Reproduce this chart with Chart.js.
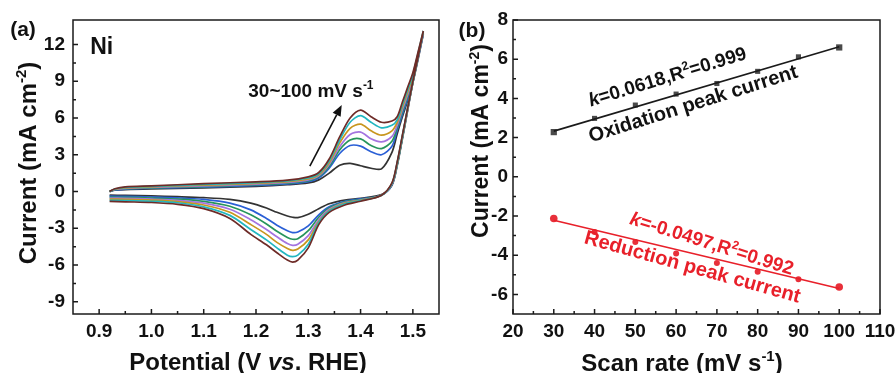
<!DOCTYPE html>
<html>
<head>
<meta charset="utf-8">
<script src="https://cdn.jsdelivr.net/npm/chart.js@4.4.1/dist/chart.umd.min.js"></script>
<style>
  html, body { margin: 0; padding: 0; background: #fff; }
  #wrap { position: relative; width: 896px; height: 373px; overflow: hidden; }
  canvas { position: absolute; top: 0; }
  #cv { left: 0; }
  #rate { left: 450px; }
</style>
</head>
<body>
<div id="wrap">
  <canvas id="cv" width="450" height="373"></canvas>
  <canvas id="rate" width="446" height="373"></canvas>
</div>
<script>
// ---- panel (a): CV curves, 30~100 mV/s ----
const cvFwdX = [0.92, 0.93, 0.95, 1.00, 1.10, 1.20, 1.26, 1.30, 1.32, 1.34, 1.36, 1.38, 1.40, 1.42, 1.44, 1.46, 1.47, 1.48, 1.49, 1.50, 1.51, 1.52];
const cvBackX = [1.52, 1.51, 1.50, 1.49, 1.48, 1.47, 1.46, 1.44, 1.40, 1.37, 1.34, 1.32, 1.30, 1.28, 1.27, 1.26, 1.24, 1.22, 1.19, 1.15, 1.10, 1.05, 1.00, 0.95, 0.92];

const fwdBlack  = [0.0, 0.10, 0.16, 0.22, 0.30, 0.42, 0.55, 0.70, 0.95, 1.50, 2.15, 2.30, 2.10, 1.90, 1.85, 3.20, 4.70, 6.10, 7.40, 8.90, 10.8, 12.85];
const fwdBlue   = [0.0, 0.12, 0.20, 0.27, 0.36, 0.50, 0.62, 0.80, 1.10, 1.90, 3.10, 3.75, 3.70, 3.25, 3.00, 3.70, 5.00, 6.30, 7.60, 9.00, 10.9, 12.90];
const fwdGreen  = [0.0, 0.14, 0.23, 0.30, 0.40, 0.55, 0.68, 0.88, 1.20, 2.05, 3.40, 4.20, 4.30, 3.75, 3.50, 4.10, 5.20, 6.50, 7.75, 9.10, 11.0, 12.95];
const fwdPurple = [0.0, 0.16, 0.26, 0.34, 0.45, 0.60, 0.74, 0.95, 1.28, 2.20, 3.65, 4.65, 4.85, 4.30, 4.05, 4.50, 5.40, 6.70, 7.90, 9.25, 11.1, 13.00];
const fwdGold   = [0.0, 0.18, 0.30, 0.38, 0.52, 0.66, 0.80, 1.02, 1.36, 2.35, 3.95, 5.15, 5.50, 4.95, 4.60, 4.95, 5.65, 6.90, 8.10, 9.40, 11.2, 13.05];
const fwdCyan   = [0.0, 0.20, 0.34, 0.42, 0.58, 0.72, 0.86, 1.10, 1.45, 2.50, 4.20, 5.65, 6.20, 5.65, 5.20, 5.40, 5.85, 7.10, 8.30, 9.55, 11.3, 13.10];
const fwdBrown  = [0.0, 0.22, 0.38, 0.46, 0.64, 0.79, 0.93, 1.20, 1.55, 2.65, 4.45, 6.00, 6.65, 6.10, 5.65, 5.75, 6.10, 7.30, 8.50, 9.70, 11.4, 13.10];

const backBlack  = [12.85, 10.9, 8.9, 6.6, 4.3, 2.1, 0.50, -0.25, -0.55, -0.70, -1.00, -1.40, -1.85, -2.13, -2.10, -2.00, -1.70, -1.35, -0.95, -0.65, -0.50, -0.42, -0.36, -0.32, -0.30];
const backBlue   = [12.90, 10.9, 8.9, 6.7, 4.4, 2.2, 0.55, -0.30, -0.60, -0.80, -1.25, -1.90, -2.80, -3.30, -3.35, -3.20, -2.75, -2.20, -1.50, -0.95, -0.65, -0.52, -0.45, -0.40, -0.38];
const backGreen  = [12.95, 10.95, 8.9, 6.7, 4.4, 2.2, 0.60, -0.30, -0.65, -0.85, -1.35, -2.10, -3.20, -3.85, -3.90, -3.75, -3.25, -2.65, -1.90, -1.20, -0.80, -0.62, -0.54, -0.48, -0.46];
const backPurple = [13.00, 10.95, 8.95, 6.7, 4.5, 2.3, 0.60, -0.30, -0.70, -0.90, -1.45, -2.30, -3.60, -4.30, -4.39, -4.25, -3.70, -3.10, -2.30, -1.45, -0.95, -0.72, -0.62, -0.56, -0.54];
const backGold   = [13.05, 11.0, 8.95, 6.75, 4.5, 2.3, 0.65, -0.30, -0.72, -0.95, -1.55, -2.45, -3.95, -4.70, -4.80, -4.65, -4.15, -3.50, -2.70, -1.70, -1.10, -0.82, -0.70, -0.64, -0.62];
const backCyan   = [13.10, 11.0, 9.0, 6.8, 4.55, 2.35, 0.65, -0.30, -0.75, -1.00, -1.60, -2.55, -4.30, -5.20, -5.32, -5.20, -4.60, -3.95, -3.10, -1.95, -1.25, -0.92, -0.80, -0.74, -0.72];
const backBrown  = [13.10, 11.0, 9.0, 6.8, 4.6, 2.4, 0.70, -0.30, -0.80, -1.10, -1.70, -2.70, -4.60, -5.60, -5.76, -5.60, -5.00, -4.35, -3.50, -2.20, -1.40, -1.05, -0.90, -0.84, -0.80];

const cvTicksX = [0.9, 1.0, 1.1, 1.2, 1.3, 1.4, 1.5];
const cvTicksY = [-9, -6, -3, 0, 3, 6, 9, 12];

// ---- panel (b): peak current vs scan rate ----
const scanRates = [30, 40, 50, 60, 70, 80, 90, 100];
const oxPeak = [2.28, 2.98, 3.66, 4.22, 4.76, 5.38, 6.12, 6.60];
const redPeak = [-2.13, -2.81, -3.33, -3.91, -4.40, -4.84, -5.23, -5.62];
const fitX = [30, 100];
const oxFit = [2.33, 6.64];
const redFit = [-2.22, -5.70];
const rateTicksX = [20, 30, 40, 50, 60, 70, 80, 90, 100, 110];
const rateTicksY = [-6, -4, -2, 0, 2, 4, 6, 8];

const FONT = '"Liberation Sans", Arial, Helvetica, sans-serif';
Chart.defaults.font.family = FONT;
Chart.defaults.font.weight = 'bold';
Chart.defaults.font.size = 19;
Chart.defaults.color = '#111';

// text with italic / superscript pieces, centred on (cx, cy)
function drawRich(ctx, parts, cx, cy, angle, color, size) {
  ctx.save();
  ctx.translate(cx, cy);
  ctx.rotate(angle * Math.PI / 180);
  ctx.fillStyle = color;
  ctx.textBaseline = 'alphabetic';
  ctx.textAlign = 'left';
  const fontOf = p => (p.italic ? 'italic ' : '') + 'bold ' + (p.sup ? Math.round(size * 0.62) : size) + 'px ' + FONT;
  let w = 0;
  parts.forEach(p => { ctx.font = fontOf(p); w += ctx.measureText(p.t).width; });
  let x = -w / 2;
  const base = size * 0.36;
  parts.forEach(p => {
    ctx.font = fontOf(p);
    ctx.fillText(p.t, x, p.sup ? base - size * 0.4 : base);
    x += ctx.measureText(p.t).width;
  });
  ctx.restore();
}

function midpoints(vals) {
  const out = [];
  for (let i = 0; i < vals.length - 1; i++) out.push((vals[i] + vals[i + 1]) / 2);
  return out;
}

// frame, inward ticks, axis titles and notes
function makeFrame(cfg) {
  return {
    id: 'frame',
    afterDraw(chart) {
      const {ctx, chartArea: a, scales: {x, y}} = chart;
      ctx.save();
      ctx.strokeStyle = '#1a1a1a';
      ctx.lineWidth = 1.5;
      ctx.beginPath();
      x.ticks.forEach(t => {
        const px = x.getPixelForValue(t.value);
        ctx.moveTo(px, a.bottom); ctx.lineTo(px, a.bottom - 5);
      });
      cfg.minorX.forEach(v => {
        const px = x.getPixelForValue(v);
        ctx.moveTo(px, a.bottom); ctx.lineTo(px, a.bottom - 3);
      });
      y.ticks.forEach(t => {
        const py = y.getPixelForValue(t.value);
        ctx.moveTo(a.left, py); ctx.lineTo(a.left + 5, py);
      });
      cfg.minorY.forEach(v => {
        const py = y.getPixelForValue(v);
        ctx.moveTo(a.left, py); ctx.lineTo(a.left + 3, py);
      });
      ctx.stroke();
      ctx.strokeRect(a.left, a.top, a.right - a.left, a.bottom - a.top);

      drawRich(ctx, cfg.xTitle, cfg.xTitlePos[0], cfg.xTitlePos[1], 0, '#111', 24);
      drawRich(ctx, cfg.yTitle, cfg.yTitlePos[0], cfg.yTitlePos[1], -90, '#111', cfg.yTitleSize);
      drawRich(ctx, [{t: cfg.panel}], cfg.panelPos[0], cfg.panelPos[1], 0, '#111', 21);

      cfg.notes.forEach(n => {
        drawRich(ctx, n.parts, x.getPixelForValue(n.x), y.getPixelForValue(n.y), n.angle, n.color, n.size);
      });

      if (cfg.arrow) {
        const x0 = x.getPixelForValue(cfg.arrow[0]), y0 = y.getPixelForValue(cfg.arrow[1]);
        const x1 = x.getPixelForValue(cfg.arrow[2]), y1 = y.getPixelForValue(cfg.arrow[3]);
        const ang = Math.atan2(y1 - y0, x1 - x0);
        const hl = 11, hw = 4.5;
        ctx.strokeStyle = '#111';
        ctx.fillStyle = '#111';
        ctx.lineWidth = 1.6;
        ctx.beginPath();
        ctx.moveTo(x0, y0);
        ctx.lineTo(x1 - hl * Math.cos(ang), y1 - hl * Math.sin(ang));
        ctx.stroke();
        ctx.beginPath();
        ctx.moveTo(x1, y1);
        ctx.lineTo(x1 - hl * Math.cos(ang) + hw * Math.sin(ang), y1 - hl * Math.sin(ang) - hw * Math.cos(ang));
        ctx.lineTo(x1 - hl * Math.cos(ang) - hw * Math.sin(ang), y1 - hl * Math.sin(ang) + hw * Math.cos(ang));
        ctx.closePath();
        ctx.fill();
      }
      ctx.restore();
    }
  };
}

function axis(min, max, tickVals, fmt, size, pad) {
  return {
    type: 'linear', min: min, max: max,
    grid: { display: false, drawTicks: false },
    border: { display: false },
    ticks: { padding: pad, maxRotation: 0, autoSkip: false, callback: fmt },
    afterBuildTicks: s => { s.ticks = tickVals.map(v => ({ value: v })); },
    afterFit: s => {
      if (s.isHorizontal()) { s.height = size; s.paddingLeft = 0; s.paddingRight = 0; }
      else { s.width = size; s.paddingTop = 0; s.paddingBottom = 0; }
    }
  };
}

const toPts = (xs, ys) => xs.map((x, i) => ({ x: x, y: ys[i] }));

const cvCurves = [
  [fwdBlack, backBlack, '#333333'],
  [fwdBlue, backBlue, '#2a5fd6'],
  [fwdGreen, backGreen, '#26945c'],
  [fwdPurple, backPurple, '#a474e0'],
  [fwdGold, backGold, '#c8961e'],
  [fwdCyan, backCyan, '#22b6c0'],
  [fwdBrown, backBrown, '#6e2b27']
];

new Chart(document.getElementById('cv'), {
  type: 'line',
  data: {
    datasets: cvCurves.map(c => ({
      data: toPts(cvFwdX, c[0]).concat(toPts(cvBackX, c[1])),
      borderColor: c[2],
      borderWidth: 1.7,
      pointRadius: 0,
      tension: 0.3,
      fill: false
    })).reverse()
  },
  options: {
    responsive: false,
    animation: false,
    layout: { padding: { left: 0, right: 11, top: 20, bottom: 0 } },
    plugins: { legend: { display: false }, tooltip: { enabled: false } },
    scales: {
      x: axis(0.85, 1.55, cvTicksX, v => v.toFixed(1), 59, 6),
      y: axis(-10, 14, cvTicksY, v => String(v), 73, 8)
    }
  },
  plugins: [makeFrame({
    minorX: midpoints(cvTicksX),
    minorY: midpoints(cvTicksY),
    xTitle: [{ t: 'Potential (V ' }, { t: 'vs', italic: true }, { t: '. RHE)' }],
    xTitlePos: [248, 361],
    yTitle: [{ t: 'Current (mA cm' }, { t: '-2', sup: true }, { t: ')' }],
    yTitlePos: [27, 163],
    yTitleSize: 24,
    panel: '(a)',
    panelPos: [23, 28],
    notes: [
      { parts: [{ t: 'Ni' }], x: 0.905, y: 11.9, angle: 0, color: '#111', size: 23 },
      { parts: [{ t: '30~100 mV s' }, { t: '-1', sup: true }], x: 1.305, y: 8.3, angle: 0, color: '#111', size: 19 }
    ],
    arrow: [1.303, 2.07, 1.364, 7.06]
  })]
});

new Chart(document.getElementById('rate'), {
  type: 'line',
  data: {
    datasets: [
      { data: toPts(fitX, oxFit), borderColor: '#1a1a1a', borderWidth: 1.6, pointRadius: 0 },
      { data: toPts(fitX, redFit), borderColor: '#e8202a', borderWidth: 1.6, pointRadius: 0 },
      { data: toPts(scanRates, oxPeak), showLine: false, pointStyle: 'rect',
        pointRadius: [4.4, 3.6, 3.6, 3.6, 3.6, 3.6, 3.6, 4.4],
        backgroundColor: '#4a4a4a', borderColor: '#4a4a4a', borderWidth: 0 },
      { data: toPts(scanRates, redPeak), showLine: false, pointStyle: 'circle',
        pointRadius: [3.8, 3.0, 3.0, 3.0, 3.0, 3.0, 3.0, 3.8],
        backgroundColor: '#e8303a', borderColor: '#e8303a', borderWidth: 0 }
    ]
  },
  options: {
    responsive: false,
    animation: false,
    layout: { padding: { left: 0, right: 16, top: 20, bottom: 0 } },
    plugins: { legend: { display: false }, tooltip: { enabled: false } },
    scales: {
      x: axis(20, 110, rateTicksX, v => String(v), 59, 6),
      y: axis(-7, 8, rateTicksY, v => String(v), 63, 5)
    }
  },
  plugins: [makeFrame({
    minorX: midpoints(rateTicksX),
    minorY: midpoints(rateTicksY),
    xTitle: [{ t: 'Scan rate (mV s' }, { t: '-1', sup: true }, { t: ')' }],
    xTitlePos: [232, 362],
    yTitle: [{ t: 'Current (mA cm' }, { t: '-2', sup: true }, { t: ')' }],
    yTitlePos: [30, 141],
    yTitleSize: 23,
    panel: '(b)',
    panelPos: [22, 29],
    notes: [
      { parts: [{ t: 'k', italic: true }, { t: '=0.0618,R' }, { t: '2', sup: true }, { t: '=0.999' }], x: 57.8, y: 5.14, angle: -17, color: '#111', size: 19 },
      { parts: [{ t: 'Oxidation peak current' }], x: 64.1, y: 3.77, angle: -17.5, color: '#111', size: 20 },
      { parts: [{ t: 'k', italic: true }, { t: '=-0.0497,R' }, { t: '2', sup: true }, { t: '=0.992' }], x: 68.8, y: -3.37, angle: 17.5, color: '#e8202a', size: 19 },
      { parts: [{ t: 'Reduction peak current' }], x: 64.1, y: -4.55, angle: 15.5, color: '#e8202a', size: 20 }
    ]
  })]
});
</script>
</body>
</html>
